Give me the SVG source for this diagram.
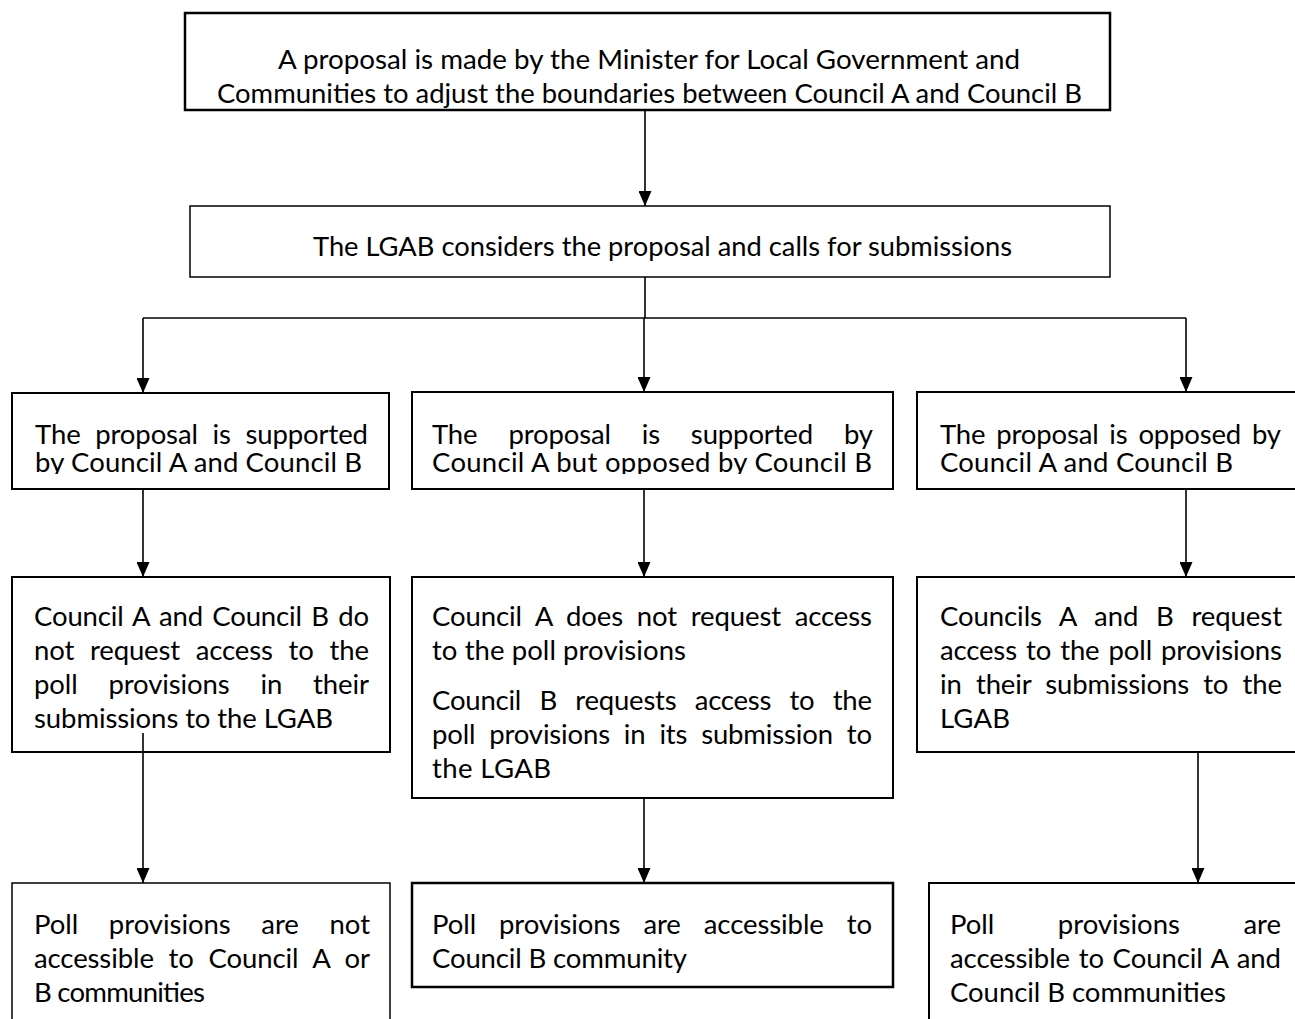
<svg xmlns="http://www.w3.org/2000/svg" width="1295" height="1019" viewBox="0 0 1295 1019">
<style>
.t{font-family:Lato,"Open Sans","Liberation Sans",sans-serif;font-size:27.5px;fill:#000}
.box{fill:#fff;stroke:#000}
.c{fill:none;stroke:#000;stroke-width:1.6}
</style>
<defs>
<marker id="ah" markerUnits="userSpaceOnUse" markerWidth="15" markerHeight="13" viewBox="0 0 15 13" refX="15" refY="6.5" orient="auto">
<path d="M0,0 L15,6.5 L0,13 z" fill="#000"/>
</marker>
<clipPath id="clip1"><rect x="0" y="395" width="1295" height="79"/></clipPath>
</defs>
<rect width="1295" height="1019" fill="#fff"/>

<g id="connectors">
<line class="c" x1="645" y1="110" x2="645" y2="206" marker-end="url(#ah)"/>
<polyline class="c" points="645,277 645,318"/>
<line class="c" x1="143" y1="318" x2="1186" y2="318"/>
<line class="c" x1="143" y1="318" x2="143" y2="393" marker-end="url(#ah)"/>
<line class="c" x1="644" y1="318" x2="644" y2="392" marker-end="url(#ah)"/>
<line class="c" x1="1186" y1="318" x2="1186" y2="392" marker-end="url(#ah)"/>
<line class="c" x1="143" y1="489" x2="143" y2="577" marker-end="url(#ah)"/>
<line class="c" x1="644" y1="489" x2="644" y2="577" marker-end="url(#ah)"/>
<line class="c" x1="1186" y1="489" x2="1186" y2="577" marker-end="url(#ah)"/>
<line class="c" x1="644" y1="798" x2="644" y2="883" marker-end="url(#ah)"/>
<line class="c" x1="1198" y1="752" x2="1198" y2="883" marker-end="url(#ah)"/>
</g>

<g id="n-proposal">
<rect class="box" x="185" y="13" width="925" height="97" stroke-width="2.5"/>
<text class="t" x="649" y="69" text-anchor="middle" textLength="742" lengthAdjust="spacingAndGlyphs">A proposal is made by the Minister for Local Government and</text>
<text class="t" x="649.5" y="103" text-anchor="middle" textLength="865" lengthAdjust="spacingAndGlyphs">Communities to adjust the boundaries between Council A and Council B</text>
</g>

<g id="n-lgab">
<rect class="box" x="190" y="206" width="920" height="71" stroke-width="1.5"/>
<text class="t" x="313" y="256" textLength="699" lengthAdjust="spacingAndGlyphs">The LGAB considers the proposal and calls for submissions</text>
</g>

<g id="n-support-both">
<rect class="box" x="12" y="393" width="377" height="96" stroke-width="2"/>
<text class="t" x="35" y="444" style="word-spacing:7.7px" textLength="333" lengthAdjust="spacing">The proposal is supported</text>
<text class="t" x="35" y="472" clip-path="url(#clip1)" textLength="327" lengthAdjust="spacing">by Council A and Council B</text>
</g>

<g id="n-support-a">
<rect class="box" x="412" y="392" width="481" height="97" stroke-width="2"/>
<text class="t" x="432" y="444" style="word-spacing:24px" textLength="441" lengthAdjust="spacing">The proposal is supported by</text>
<text class="t" x="432" y="472" clip-path="url(#clip1)" textLength="440" lengthAdjust="spacing">Council A but opposed by Council B</text>
</g>

<g id="n-oppose-both">
<rect class="box" x="917" y="392" width="400" height="97" stroke-width="2"/>
<text class="t" x="940" y="444" style="word-spacing:4px" textLength="341" lengthAdjust="spacing">The proposal is opposed by</text>
<text class="t" x="940" y="472" clip-path="url(#clip1)" textLength="293" lengthAdjust="spacing">Council A and Council B</text>
</g>

<g id="n-no-request">
<rect class="box" x="12" y="577" width="378" height="175" stroke-width="2"/>
<text class="t" x="34" y="626" style="word-spacing:2.4px" textLength="335" lengthAdjust="spacing">Council A and Council B do</text>
<text class="t" x="34" y="660" style="word-spacing:9px" textLength="335" lengthAdjust="spacing">not request access to the</text>
<text class="t" x="34" y="694" style="word-spacing:24px" textLength="335" lengthAdjust="spacing">poll provisions in their</text>
<text class="t" x="34" y="728" textLength="299" lengthAdjust="spacing">submissions to the LGAB</text>
</g>

<g id="n-b-request">
<rect class="box" x="412" y="577" width="481" height="221" stroke-width="2"/>
<text class="t" x="432" y="626" style="word-spacing:6.8px" textLength="440" lengthAdjust="spacing">Council A does not request access</text>
<text class="t" x="432" y="660" textLength="254" lengthAdjust="spacing">to the poll provisions</text>
<text class="t" x="432" y="710" style="word-spacing:11.4px" textLength="440" lengthAdjust="spacing">Council B requests access to the</text>
<text class="t" x="432" y="744" style="word-spacing:7px" textLength="440" lengthAdjust="spacing">poll provisions in its submission to</text>
<text class="t" x="432" y="778" textLength="119" lengthAdjust="spacing">the LGAB</text>
</g>

<g id="n-both-request">
<rect class="box" x="917" y="577" width="400" height="175" stroke-width="2"/>
<text class="t" x="940" y="626" style="word-spacing:10.8px" textLength="342" lengthAdjust="spacing">Councils A and B request</text>
<text class="t" x="940" y="660" style="word-spacing:2.2px" textLength="342" lengthAdjust="spacing">access to the poll provisions</text>
<text class="t" x="940" y="694" style="word-spacing:7.3px" textLength="342" lengthAdjust="spacing">in their submissions to the</text>
<text class="t" x="940" y="728" textLength="70" lengthAdjust="spacing">LGAB</text>
</g>

<g id="n-not-accessible">
<rect class="box" x="12" y="883" width="378" height="160" stroke-width="1.5"/>
<text class="t" x="34" y="934" style="word-spacing:23.7px" textLength="336" lengthAdjust="spacing">Poll provisions are not</text>
<text class="t" x="34" y="968" style="word-spacing:7.8px" textLength="336" lengthAdjust="spacing">accessible to Council A or</text>
<text class="t" x="34" y="1002" textLength="171" lengthAdjust="spacing">B communities</text>
</g>

<g id="n-b-accessible">
<rect class="box" x="412" y="883" width="481" height="104" stroke-width="2.5"/>
<text class="t" x="432" y="934" style="word-spacing:16px" textLength="440" lengthAdjust="spacing">Poll provisions are accessible to</text>
<text class="t" x="432" y="968" textLength="255" lengthAdjust="spacing">Council B community</text>
</g>

<g id="n-both-accessible">
<rect class="box" x="929" y="883" width="400" height="160" stroke-width="2"/>
<text class="t" x="950" y="934" style="word-spacing:56.5px" textLength="331" lengthAdjust="spacing">Poll provisions are</text>
<text class="t" x="950" y="968" style="word-spacing:1.7px" textLength="331" lengthAdjust="spacing">accessible to Council A and</text>
<text class="t" x="950" y="1002" textLength="276" lengthAdjust="spacing">Council B communities</text>
</g>

<line class="c" x1="143" y1="733" x2="143" y2="883" marker-end="url(#ah)"/>
</svg>
